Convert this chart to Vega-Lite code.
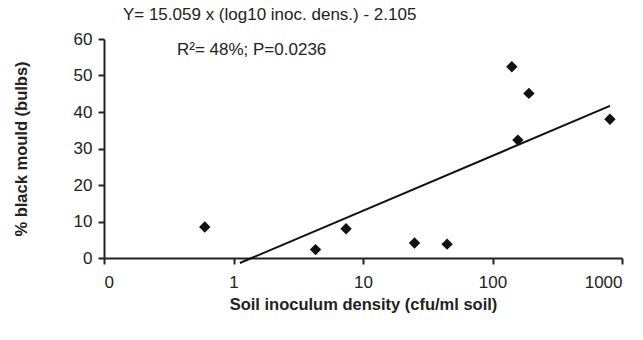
{
  "$schema": "https://vega.github.io/schema/vega-lite/v6.json",
  "width": 518,
  "height": 219,
  "autosize": "none",
  "padding": {"left": 104, "top": 39, "right": 21, "bottom": 82},
  "background": "white",
  "config": {
    "view": {"stroke": null},
    "font": "Liberation Sans",
    "axis": {
      "grid": false,
      "domainColor": "#222",
      "domainWidth": 2,
      "tickColor": "#222",
      "tickWidth": 2,
      "tickSize": 6,
      "labelFont": "Liberation Sans",
      "labelFontSize": 17,
      "labelColor": "#222",
      "labelOverlap": false,
      "titleFont": "Liberation Sans",
      "titleFontSize": 16.5,
      "titleFontWeight": "bold",
      "titleColor": "#222"
    }
  },
  "datasets": {
    "points": [
      {"density": 0.6, "mould": 8.5},
      {"density": 4.3, "mould": 2.3},
      {"density": 7.4, "mould": 8.0},
      {"density": 25, "mould": 4.1},
      {"density": 44.6, "mould": 3.8},
      {"density": 141, "mould": 52.4},
      {"density": 191, "mould": 45.1},
      {"density": 157, "mould": 32.3},
      {"density": 807, "mould": 38.0}
    ],
    "fit": [
      {"density": 1.12, "mould": -1.36},
      {"density": 807, "mould": 41.67}
    ],
    "notes": [
      {"density": 0.14, "mould": 65.2, "label": "Y= 15.059 x (log10 inoc. dens.) - 2.105"},
      {"density": 0.366, "mould": 55.6, "label": "R²= 48%; P=0.0236"}
    ]
  },
  "encoding": {
    "x": {
      "field": "density", "type": "quantitative",
      "scale": {"type": "log", "domain": [0.1, 1000]},
      "axis": {
        "values": [0.1, 1, 10, 100, 1000],
        "labelExpr": "datum.value < 0.5 ? '0' : format(datum.value, 'd')",
        "title": "Soil inoculum density (cfu/ml soil)",
        "labelPadding": 10,
        "titlePadding": 6
      }
    },
    "y": {
      "field": "mould", "type": "quantitative",
      "scale": {"domain": [0, 60], "nice": false, "zero": false},
      "axis": {
        "values": [0, 10, 20, 30, 40, 50, 60],
        "tickCount": 7,
        "title": "% black mould (bulbs)",
        "labelPadding": 6,
        "titlePadding": 44
      }
    }
  },
  "layer": [
    {
      "data": {"name": "fit"},
      "mark": {"type": "line", "color": "#111", "strokeWidth": 2}
    },
    {
      "data": {"name": "points"},
      "mark": {"type": "point", "shape": "diamond", "filled": true, "color": "#111", "size": 130, "opacity": 1}
    },
    {
      "data": {"name": "notes"},
      "mark": {"type": "text", "align": "left", "baseline": "alphabetic", "fontSize": 17, "color": "#222", "font": "Liberation Sans"},
      "encoding": {
        "text": {"field": "label"}
      }
    }
  ]
}
